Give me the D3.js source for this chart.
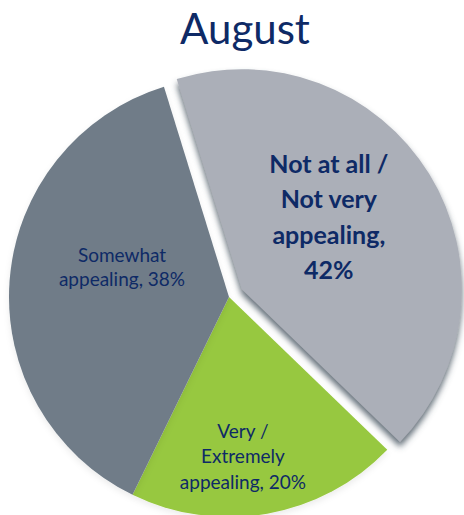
<!DOCTYPE html>
<html>
<head>
<meta charset="utf-8">
<script src="https://cdn.jsdelivr.net/npm/d3@7"></script>
<style>
  html, body { margin: 0; padding: 0; background: #ffffff; }
  svg { display: block; }
</style>
</head>
<body>
<svg id="chart" width="464" height="515"></svg>
<script>
// Survey answers for August, in drawing order (clockwise)
const title = "August";
const categories = ["Not at all / Not very appealing", "Very / Extremely appealing", "Somewhat appealing"];
const values = [42, 20, 38];
const labelLines = [
  ["Not at all /", "Not very", "appealing,", "42%"],
  ["Very /", "Extremely", "appealing, 20%"],
  ["Somewhat", "appealing, 38%"]
];
const colors = ["#abafb8", "#97c83f", "#6f7c88"];
const exploded = [true, false, false];

const W = 464, H = 515;
const cx = 229, cy = 297, R = 220;
const explodeDist = 15;
const textColor = "#0e2a66";
const deg = Math.PI / 180;

// label layout: angle shift from slice bisector (deg), distance from slice apex, font
const labelLayout = [
  { shift: -8, dist: 113, size: 25, weight: 700, lineH: 35.5 },
  { shift: 5, dist: 160, size: 19, weight: 400, lineH: 25.5 },
  { shift: 11, dist: 111, size: 19, weight: 400, lineH: 24 }
];

const svg = d3.select("#chart");
const defs = svg.append("defs");

const sh = defs.append("filter").attr("id", "sliceShadow")
  .attr("x", "-20%").attr("y", "-20%").attr("width", "140%").attr("height", "140%");
sh.append("feDropShadow").attr("dx", 0).attr("dy", 5).attr("stdDeviation", 3)
  .attr("flood-color", "#44525f").attr("flood-opacity", 0.85);

const sh2 = defs.append("filter").attr("id", "pieShadow")
  .attr("x", "-20%").attr("y", "-20%").attr("width", "140%").attr("height", "140%");
sh2.append("feDropShadow").attr("dx", 0).attr("dy", 3).attr("stdDeviation", 3)
  .attr("flood-color", "#000000").attr("flood-opacity", 0.08);

svg.append("text")
  .attr("x", 245).attr("y", 44)
  .attr("text-anchor", "middle")
  .attr("font-family", "Lato, 'Open Sans', sans-serif")
  .attr("font-size", 42)
  .attr("fill", textColor)
  .text(title);

const pie = d3.pie().sort(null)
  .startAngle(-17.2 * deg)
  .endAngle(-17.2 * deg + 2 * Math.PI);
const arcs = pie(values);
const arc = d3.arc().innerRadius(0).outerRadius(R);

const offsetOf = (d, i) => {
  if (!exploded[i]) return [0, 0];
  const a = (d.startAngle + d.endAngle) / 2;
  return [Math.sin(a) * explodeDist, -Math.cos(a) * explodeDist];
};

const g = svg.append("g").attr("transform", `translate(${cx},${cy})`);

// non-exploded slices first, exploded slice on top with its shadow
const order = d3.range(values.length).sort((a, b) => (exploded[a] ? 1 : 0) - (exploded[b] ? 1 : 0));

g.selectAll("path.slice")
  .data(order)
  .join("path")
  .attr("class", "slice")
  .attr("d", i => arc(arcs[i]))
  .attr("fill", i => colors[i])
  .attr("filter", i => exploded[i] ? "url(#sliceShadow)" : "url(#pieShadow)")
  .attr("transform", i => {
    const [ox, oy] = offsetOf(arcs[i], i);
    return `translate(${ox},${oy})`;
  });

// labels
arcs.forEach((d, i) => {
  const L = labelLayout[i];
  const [ox, oy] = offsetOf(d, i);
  const a = (d.startAngle + d.endAngle) / 2 + L.shift * deg;
  const lx = ox + Math.sin(a) * L.dist;
  const ly = oy - Math.cos(a) * L.dist;
  const lines = labelLines[i];
  const capH = L.size * 0.72;
  const blockH = (lines.length - 1) * L.lineH + capH;
  const firstBase = ly - blockH / 2 + capH;
  const t = g.append("text")
    .attr("text-anchor", "middle")
    .attr("font-family", "Lato, 'Open Sans', sans-serif")
    .attr("font-size", L.size)
    .attr("font-weight", L.weight)
    .attr("fill", textColor);
  lines.forEach((s, k) => {
    t.append("tspan").attr("x", lx).attr("y", firstBase + k * L.lineH).text(s);
  });
});
</script>
</body>
</html>
